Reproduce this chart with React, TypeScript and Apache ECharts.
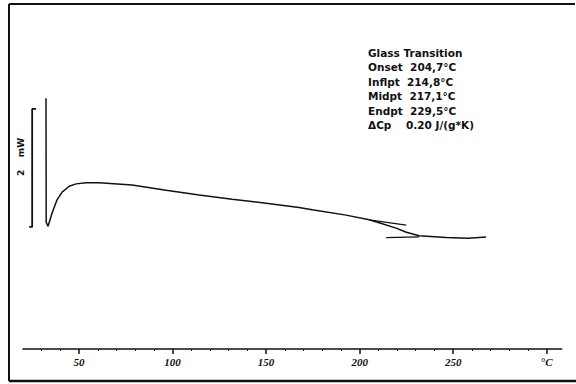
import React, { useEffect, useRef } from "react";
import * as echarts from "echarts";

// DSC heating scan: temperature (°C) vs heat flow (mW, arbitrary offset)
const tempC = [
  32.3, 32.4, 33.4, 35.6, 38.2, 40.9, 44.7, 48.4, 53.7, 60.7, 78.3, 96.5,
  114.2, 131.8, 150.0, 167.6, 174.6, 192.8, 205.1, 210.4, 219.5, 225.0,
  231.8, 246.3, 258.0, 267.6,
];
const heatFlow = [
  4.25, 2.15, 2.08, 2.31, 2.53, 2.66, 2.76, 2.8, 2.82, 2.82, 2.78, 2.69,
  2.61, 2.54, 2.47, 2.4, 2.36, 2.27, 2.19, 2.14, 2.05, 1.98,
  1.92, 1.89, 1.88, 1.9,
];

// Evaluation tangents of the glass transition
const onsetTangent = [
  [205.1, 2.19],
  [224.9, 2.1],
];
const endTangent = [
  [214.2, 1.89],
  [231.8, 1.9],
];

// 2 mW scale bar
const scaleBarT = 24.9;
const scaleBarLow = 2.07;
const scaleBarSpan = 2;
const scaleBarLabel = "2    mW";

const majorTicks = [50, 100, 150, 200, 250, 300];
const minorTicks = [30, 40, 60, 70, 80, 90, 110, 120, 130, 140, 160, 170, 180, 190, 210, 220, 230, 240, 260, 270, 280, 290];
const unitLabel = "°C";

const infoLines = [
  "Glass Transition",
  "Onset  204,7°C",
  "Inflpt  214,8°C",
  "Midpt  217,1°C",
  "Endpt  229,5°C",
  "ΔCp    0.20 J/(g*K)",
];

const INK = "#111";

export default function App() {
  const ref = useRef<HTMLDivElement>(null);

  useEffect(() => {
    if (!ref.current) return;
    const chart = echarts.init(ref.current, null, { renderer: "svg" });

    const curve = tempC.map((t, i) => [t, heatFlow[i]]);
    const top = scaleBarLow + scaleBarSpan;
    const scaleBar = [
      [scaleBarT + 2.1, top],
      [scaleBarT, top],
      [scaleBarT, scaleBarLow],
      [scaleBarT - 1.6, scaleBarLow],
    ];

    const lineStyle = { color: INK, width: 1.5 };
    const baseSeries = {
      type: "line",
      showSymbol: false,
      symbol: "none",
      silent: true,
      lineStyle,
    };

    chart.setOption({
      animation: false,
      backgroundColor: "#fff",
      grid: { left: 23, right: 14.4, top: 4, bottom: 35 },
      xAxis: [
        {
          type: "value",
          min: 20,
          max: 308,
          position: "bottom",
          splitLine: { show: false },
          axisLine: { show: true, lineStyle: { color: INK, width: 1.5 } },
          axisTick: {
            show: true,
            customValues: majorTicks,
            length: 5,
            lineStyle: { color: INK, width: 1.5 },
          },
          axisLabel: {
            show: true,
            customValues: majorTicks,
            margin: 7,
            color: INK,
            fontFamily: "Liberation Serif",
            fontStyle: "italic",
            fontWeight: "bold",
            fontSize: 11,
            formatter: (v: number) => (v === 300 ? unitLabel : String(v)),
          },
        },
        {
          type: "value",
          min: 20,
          max: 308,
          position: "bottom",
          offset: 0,
          splitLine: { show: false },
          axisLine: { show: false },
          axisTick: {
            show: true,
            customValues: minorTicks,
            length: 2,
            lineStyle: { color: INK, width: 1 },
          },
          axisLabel: { show: false },
        },
      ],
      yAxis: {
        type: "value",
        min: 0,
        max: 5.85,
        show: false,
        splitLine: { show: false },
      },
      series: [
        { ...baseSeries, name: "heat flow", data: curve },
        { ...baseSeries, name: "onset tangent", data: onsetTangent, lineStyle: { color: INK, width: 1.2 } },
        { ...baseSeries, name: "end tangent", data: endTangent, lineStyle: { color: INK, width: 1.2 } },
        { ...baseSeries, name: "scale", data: scaleBar, lineStyle: { color: INK, width: 1.8 } },
      ],
      graphic: [
        // outer frame
        { type: "line", shape: { x1: 9, y1: 4, x2: 575, y2: 4 }, style: { stroke: INK, lineWidth: 2 } },
        { type: "line", shape: { x1: 9, y1: 4, x2: 9, y2: 381 }, style: { stroke: INK, lineWidth: 2 } },
        { type: "line", shape: { x1: 9, y1: 381, x2: 576, y2: 381 }, style: { stroke: INK, lineWidth: 2.5 } },
        {
          type: "text",
          x: 21,
          y: 157,
          rotation: Math.PI / 2,
          style: {
            text: scaleBarLabel,
            fill: INK,
            fontFamily: "DejaVu Sans",
            fontWeight: "bold",
            fontSize: 9,
            align: "center",
            verticalAlign: "middle",
          },
        },
        ...infoLines.map((s, i) => ({
          type: "text",
          x: 368,
          y: 53 + i * 14.4,
          style: {
            text: s,
            fill: INK,
            fontFamily: "DejaVu Sans",
            fontWeight: "bold",
            fontSize: 10.5,
            verticalAlign: "middle",
          },
        })),
      ],
    });

    return () => chart.dispose();
  }, []);

  return <div ref={ref} style={{ width: 576, height: 384, position: "absolute", left: 0, top: 0 }} />;
}
